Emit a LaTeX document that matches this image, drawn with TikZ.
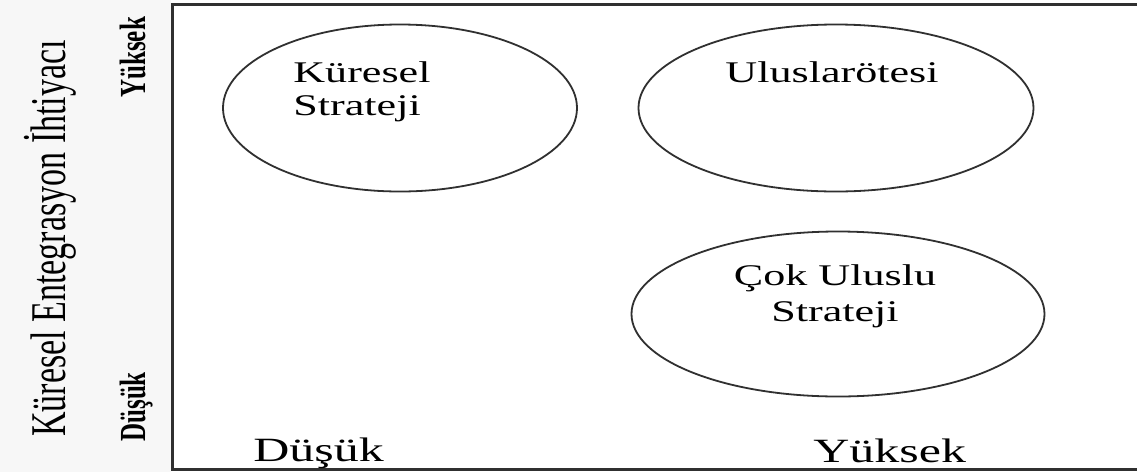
\documentclass[tikz,border=0pt]{standalone}
\usepackage{fontspec}
\setmainfont{Liberation Serif}
\usetikzlibrary{shapes.geometric}
\definecolor{leftbg}{HTML}{F7F7F7}
\definecolor{framecol}{HTML}{303030}
\tikzset{
  oval/.style={draw=framecol, line width=0.9pt, ellipse, inner sep=0pt},
  inlabel/.style={inner sep=0pt, font=\fontsize{15pt}{18pt}\selectfont},
  axlabel/.style={inner sep=0pt, font=\fontsize{17pt}{20pt}\selectfont},
  sidelabel/.style={inner sep=0pt, rotate=90, anchor=base west, font=\fontsize{12.5pt}{15pt}\selectfont\bfseries},
}
\newcommand{\hstr}[1]{\scalebox{1.47}[1]{#1}}
\newcommand{\vstr}[1]{\scalebox{1}[1.47]{#1}}
\begin{document}
\begin{tikzpicture}[x=0.5pt, y=-0.5pt]
\useasboundingbox (0,0) rectangle (1137,472);
\fill[leftbg] (0,0) rectangle (171,472);
\fill[white] (171,0) rectangle (1137,472);
% frame
\coordinate (ftr) at (1137,4);
\coordinate (ftl) at (172,4);
\coordinate (fbl) at (172,469);
\coordinate (fbr) at (1137,469);
\draw[framecol, line width=1.5pt] (ftr) -- (ftl) -- (fbl) -- (fbr);
% ellipses
\node[oval, minimum width=177pt, minimum height=83.5pt] (kur) at (400,108) {};
\node[oval, minimum width=197.5pt, minimum height=83.5pt] (ulo) at (836,108) {};
\node[oval, minimum width=206.5pt, minimum height=82.5pt] (cok) at (838,314) {};
% ellipse texts
\node[inlabel, anchor=base west] (kur1) at (293,82) {\hstr{Küresel}};
\node[inlabel, anchor=base west] (kur2) at (293,115) {\hstr{Strateji}};
\node[inlabel, anchor=base] (ulo1) at (832,82) {\hstr{Uluslarötesi}};
\node[inlabel, anchor=base] (cok1) at (835,285) {\hstr{Çok Uluslu}};
\node[inlabel, anchor=base] (cok2) at (835,321) {\hstr{Strateji}};
% bottom axis labels
\node[axlabel, anchor=base west] (xlow) at (253,461) {\hstr{Düşük}};
\node[axlabel, anchor=base west] (xhigh) at (813,462) {\hstr{Yüksek}};
% left axis labels
\node[axlabel, rotate=90, anchor=base west] (ytitle) at (65,437) {\vstr{Küresel Entegrasyon İhtiyacı}};
\node[sidelabel] (yhigh) at (145,98) {\vstr{Yüksek}};
\node[sidelabel] (ylow) at (145,442) {\vstr{Düşük}};
\end{tikzpicture}
\end{document}
